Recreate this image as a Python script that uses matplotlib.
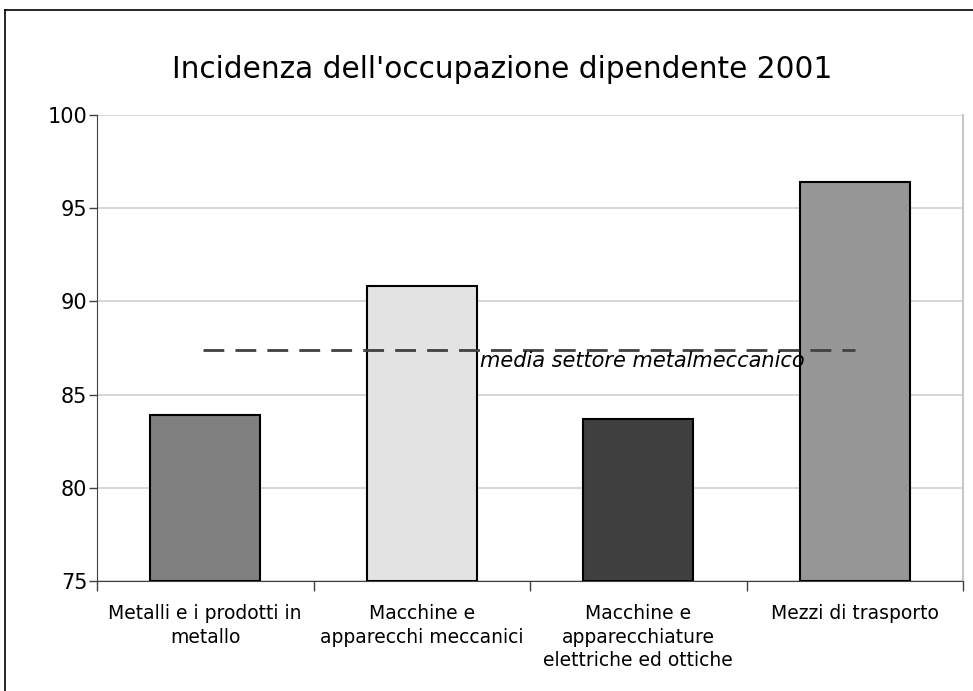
import matplotlib
matplotlib.use("Agg")
import matplotlib.pyplot as plt
from matplotlib.lines import Line2D

categories = ["Metalli e i prodotti in\nmetallo",
              "Macchine e\napparecchi meccanici",
              "Macchine e\napparecchiature\nelettriche ed ottiche",
              "Mezzi di trasporto"]
values = [83.9, 90.8, 83.7, 96.4]
bar_colors = ["#808080", "#e3e3e3", "#404040", "#969696"]
media = 87.4
media_label = "media settore metalmeccanico"
title = "Incidenza dell'occupazione dipendente 2001"
yticks = [75, 80, 85, 90, 95, 100]

plt.rcParams['font.family'] = ['DejaVu Sans']

fig = plt.figure(figsize=(9.73, 6.91), dpi=100)
ax = fig.add_axes([97/973, 1-581/691, (963-97)/973, (581-115)/691])

x = list(range(len(values)))
ax.bar(x, [v - 75 for v in values], bottom=75, width=0.51, color=bar_colors,
       edgecolor="black", linewidth=1.5, zorder=3)
ax.set_ylim(75, 100)
ax.set_xlim(-0.5, 3.5)
ax.set_yticks(yticks)
ax.set_yticklabels([str(t) for t in yticks], fontsize=15)
ax.yaxis.grid(True, color="#d0d0d0", linewidth=1.2, zorder=0)
ax.tick_params(axis='y', direction='out', length=6, width=1, color="#404040", pad=1)

ax.set_xticks([-0.5, 0.5, 1.5, 2.5, 3.5])
ax.set_xticklabels([])
ax.tick_params(axis='x', direction='out', length=7, width=1, color="#404040")
for i, lab in enumerate(categories):
    ax.text(i, 73.75, lab, ha='center', va='top', fontsize=13.5, linespacing=1.3)

ax.spines["top"].set_visible(False)
ax.spines["right"].set_color("#c8c8c8")
ax.spines["right"].set_linewidth(1.5)
ax.spines["left"].set_color("#404040")
ax.spines["bottom"].set_color("#404040")

ax.plot([-0.01, 3.0], [media, media], linestyle=(0, (7.5, 4)), color="#404040",
        linewidth=2, zorder=4)
ax.text(2.02, media - 0.05, media_label, ha='center', va='top', fontsize=15,
        style='italic', zorder=5)

fig.text(502/973, 1-70/691, title, ha='center', va='center', fontsize=21.3)

fig.add_artist(Line2D([5/973, 5/973], [0, 1-10/691], color="black", linewidth=1.2,
                      transform=fig.transFigure))
fig.add_artist(Line2D([5/973, 1], [1-10/691, 1-10/691], color="black", linewidth=1.2,
                      transform=fig.transFigure))

fig.savefig("out.png", dpi=100)
